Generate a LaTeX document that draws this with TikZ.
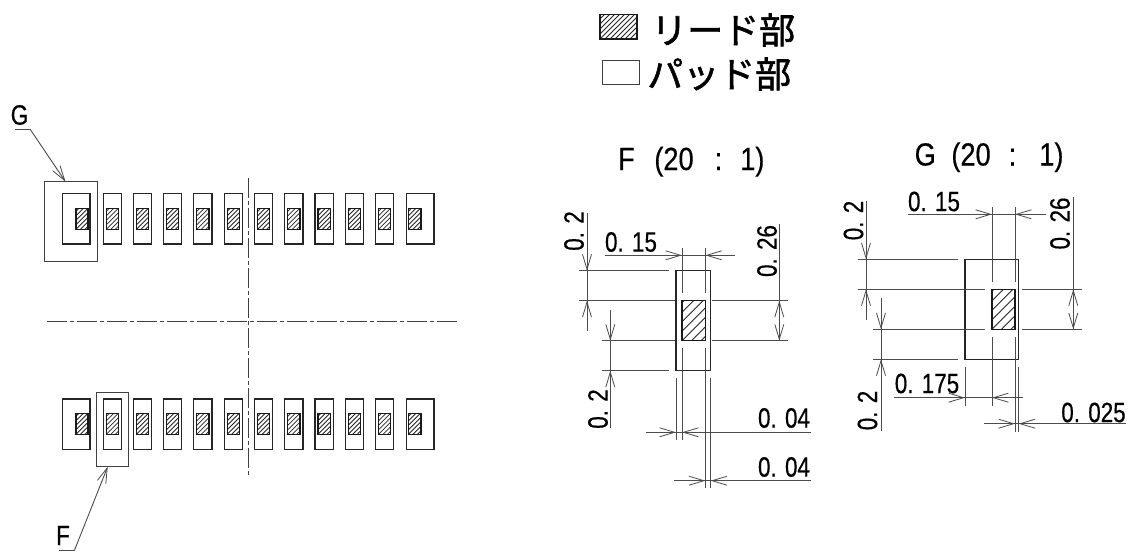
\documentclass[tikz,border=0pt]{standalone}
\usepackage{fontspec}
\usetikzlibrary{arrows.meta}
\newfontfamily\cadfont[FakeStretch=0.80,FakeBold=0.5]{Liberation Sans}
\newfontfamily\titlefont[FakeStretch=0.85,FakeBold=0.4]{Liberation Sans}
\newfontfamily\jpfont[FakeBold=1.5]{Noto Sans CJK JP}
\tikzset{
  x=1pt,y=-1pt,
  part/.style={draw=black!85,line width=1.1pt,fill=white},
  leadbox/.style={draw=black!90,line width=1.1pt},
  thin box/.style={draw=black!75,line width=1pt},
  extline/.style={draw=black!70,line width=0.9pt},
  tip/.style={draw=black!70,line width=0.9pt,-{Straight Barb[length=15pt,width=9pt,line width=0.8pt]}},
  centre/.style={draw=black!75,line width=1pt,dash pattern=on 20pt off 3pt on 4pt off 3pt},
  dimtext/.style={inner sep=0pt,font=\cadfont\fontsize{28}{28}\selectfont},
  titletext/.style={inner sep=0pt,anchor=base west,font=\titlefont\fontsize{32}{32}\selectfont},
  legendtext/.style={inner sep=0pt,anchor=west,font=\jpfont\fontsize{36}{36}\selectfont},
}
% hatched rectangle: x1,y1,x2,y2,spacing
\newcommand{\hatchbox}[5]{%
  \begin{scope}
    \clip (#1,#2) rectangle (#3,#4);
    \foreach \k in {-30,...,30}
      \draw[line width=0.8pt,black!85] ({#1+\k*#5},#4) -- ++(60,-60);
  \end{scope}
  \draw[leadbox] (#1,#2) rectangle (#3,#4);}
\begin{document}
\begin{tikzpicture}
\useasboundingbox (0,0) rectangle (1128,554);
\fill[white] (0,0) rectangle (1128,554);
% legend
\hatchbox{600}{14.5}{637}{39}{5}
\draw[thin box] (602,60) rectangle (639,84);
\node[legendtext] (legendA) at (651,30) {リード部};
\node[legendtext] (legendB) at (647,74) {パッド部};
% pads
\foreach \ya/\yb/\la/\lb in {193.7/244/208.7/229.3,399/449.3/413.7/434.3}{
  \draw[part] (62.3,\ya) rectangle (90,\yb);
  \hatchbox{76}{\la}{88}{\lb}{4.5}
  \foreach \xa in {103.3,133.4,163.5,193.8,224.2,254.7,284.8,315,345.2,375.6}{
    \draw[part] (\xa,\ya) rectangle ({\xa+18.2},\yb);
    \hatchbox{\xa+3}{\la}{\xa+15.2}{\lb}{4.5}
  }
  \draw[part] (406.7,\ya) rectangle (434,\yb);
  \hatchbox{408.5}{\la}{421}{\lb}{4.5}
}
% centre lines
\coordinate (cvT) at (248,178);
\coordinate (cvB) at (248,475);
\coordinate (chL) at (47,321);
\coordinate (chR) at (459,321);
\draw[centre] (cvT) -- (cvB);
\draw[centre] (chL) -- (chR);
% view frames
\draw[thin box] (44.3,181.7) rectangle (97,261.3);
\draw[thin box] (96.7,392.3) rectangle (128,466.7);
% leaders
\coordinate (gA) at (15,129);
\coordinate (gB) at (30,129);
\coordinate (gT) at (65.5,181.7);
\coordinate (fA) at (59.3,550.7);
\coordinate (fB) at (74.3,550.7);
\coordinate (fT) at (107.7,466.7);
\draw[extline] (gA) -- (gB);
\draw[tip] (gB) -- (gT);
\draw[extline] (fA) -- (fB);
\draw[tip] (fB) -- (fT);
\node[dimtext] (labG) at (19.5,115) {G};
\node[dimtext] (labF) at (63,535.5) {F};
% titles
\node[titletext] (titleF) at (618,170) {F\hspace{12pt} (20\hspace{21pt}:\hspace{18pt}1)};
\node[titletext] (titleG) at (914.5,165.5) {G\hspace{8pt} (20\hspace{18pt}:\hspace{23pt}1)};
% ----- detail F
\draw[part] (676,270.7) rectangle (710.7,370.7);
\hatchbox{682}{300.7}{705.3}{340.7}{9.5}
\foreach \a/\b/\c/\d in {
 579.3/270.7/669/270.7, 579.3/300.7/675/300.7, 712/300.7/787.7/300.7,
 602.3/340.7/675/340.7, 712/340.7/787.7/340.7, 602.3/370.7/669/370.7,
 682/248/682/293, 705.3/248/705.3/293, 682/348/682/440, 705.3/348/705.3/488,
 676/378/676/440, 710.7/378/710.7/488,
 587/213/587/331, 610.3/310/610.3/428, 779.3/224/779.3/340.7,
 605/255.3/735/255.3, 645.7/432.3/810.7/432.3, 674.3/480.7/810.7/480.7}
  \draw[extline] (\a,\b) -- (\c,\d);
\foreach \a/\b/\c/\d in {
 587/250/587/270.7, 587/321/587/300.7, 610.3/320/610.3/340.7, 610.3/391/610.3/370.7,
 779.3/321/779.3/300.7, 779.3/320/779.3/340.7,
 660/255.3/682/255.3, 727/255.3/705.3/255.3,
 655/432.3/676/432.3, 703/432.3/682/432.3,
 684/480.7/705.3/480.7, 732/480.7/710.7/480.7}
  \draw[tip] (\a,\b) -- (\c,\d);
\node[dimtext,rotate=90] (f02a) at (574,231) {0. 2};
\node[dimtext,rotate=90] (f02b) at (598,409) {0. 2};
\node[dimtext,rotate=90] (f026) at (767,251) {0. 26};
\node[dimtext] (f015) at (631,242) {0. 15};
\node[dimtext] (f004a) at (784,418) {0. 04};
\node[dimtext] (f004b) at (784,467) {0. 04};
% ----- detail G
\draw[part] (965,259.3) rectangle (1018.7,359.3);
\hatchbox{992}{289.3}{1015}{329.3}{9.5}
\foreach \a/\b/\c/\d in {
 858.3/259.3/958.3/259.3, 858.3/289.3/985/289.3, 1022.3/289.3/1081.7/289.3,
 873.3/329.3/985/329.3, 1022.3/329.3/1081.7/329.3, 873.3/359.3/958.3/359.3,
 992/207/992/281.7, 1015/207/1015/281.7, 992/336.7/992/405.7, 1015/336.7/1015/432,
 1018.7/366.7/1018.7/432, 965/366.7/965/405.7,
 866/200.7/866/320, 881/298.3/881/430.7, 1073.3/197/1073.3/329.3,
 907.7/214.3/1045.7/214.3, 894.3/397.7/1022.7/397.7, 984.3/423.7/1126/423.7}
  \draw[extline] (\a,\b) -- (\c,\d);
\foreach \a/\b/\c/\d in {
 866/239/866/259.3, 866/310/866/289.3, 881/309/881/329.3, 881/380/881/359.3,
 1073.3/310/1073.3/289.3, 1073.3/309/1073.3/329.3,
 970/214.3/992/214.3, 1037/214.3/1015/214.3,
 944/397.7/965/397.7, 1014/397.7/992/397.7,
 993/423.7/1015/423.7, 1041/423.7/1018.7/423.7}
  \draw[tip] (\a,\b) -- (\c,\d);
\node[dimtext,rotate=90] (g02a) at (853.5,220.5) {0. 2};
\node[dimtext,rotate=90] (g02b) at (867.5,410.5) {0. 2};
\node[dimtext,rotate=90] (g026) at (1060,223.5) {0. 26};
\node[dimtext] (g015) at (934,201.5) {0. 15};
\node[dimtext] (g0175) at (927,383.5) {0. 175};
\node[dimtext] (g0025) at (1093.5,412.5) {0. 025};
\end{tikzpicture}
\end{document}
